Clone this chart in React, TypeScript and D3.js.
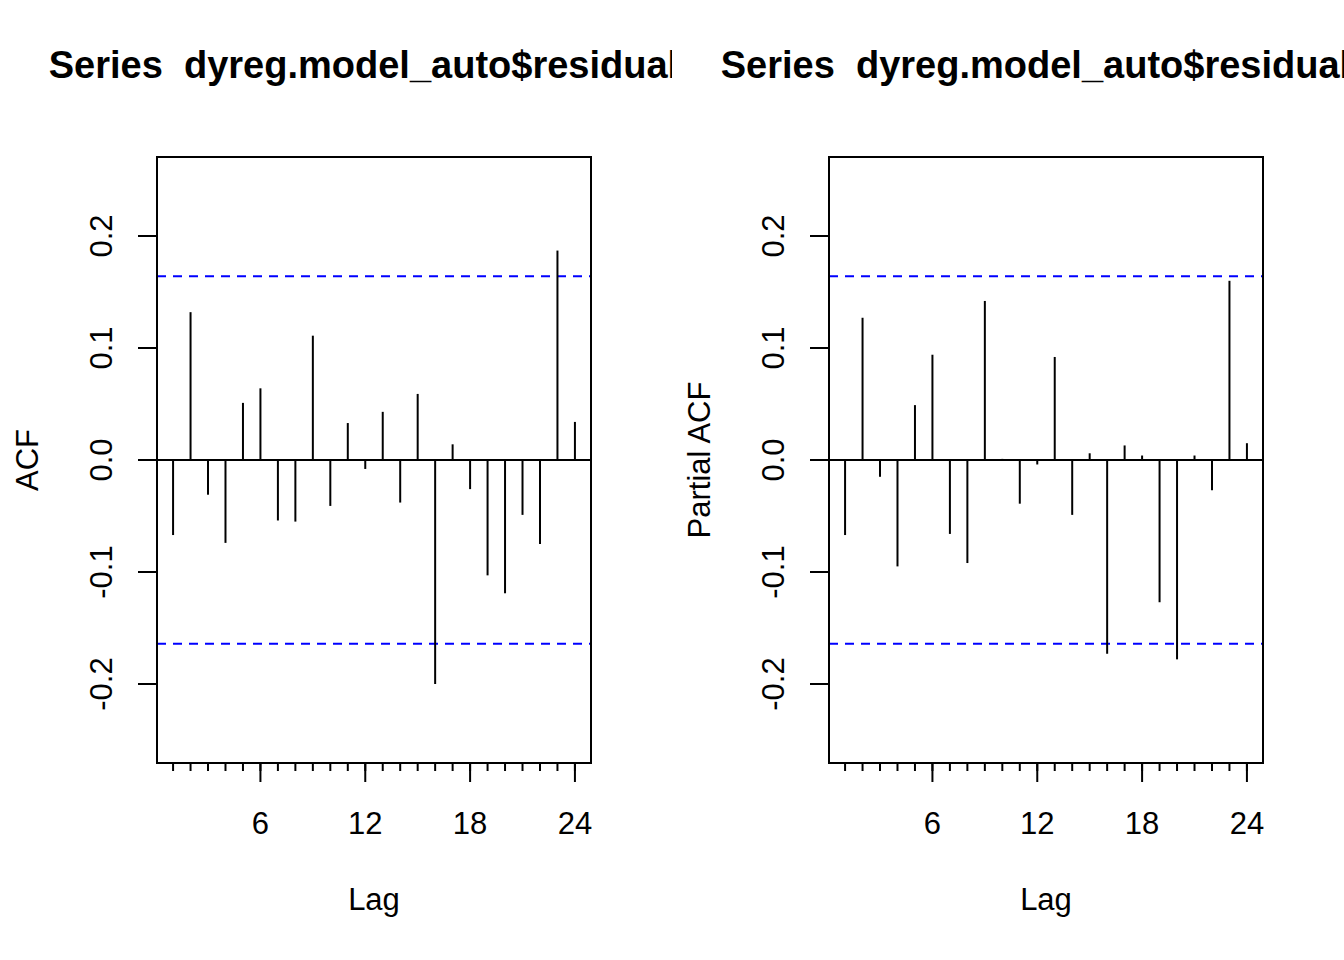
import React from "react";
import * as d3 from "d3";

const lags = Array.from({ length: 24 }, (_, i) => i + 1);
const acfValues = [-0.067, 0.132, -0.031, -0.074, 0.051, 0.064, -0.054, -0.055, 0.111, -0.041, 0.033, -0.008, 0.043, -0.038, 0.059, -0.2, 0.014, -0.026, -0.103, -0.119, -0.049, -0.075, 0.187, 0.034];
const pacfValues = [-0.067, 0.127, -0.015, -0.095, 0.049, 0.094, -0.066, -0.092, 0.142, 0.001, -0.039, -0.004, 0.092, -0.049, 0.006, -0.173, 0.013, 0.004, -0.127, -0.178, 0.004, -0.027, 0.16, 0.015];
const confLimit = 0.164;
const yLimits = [-0.2505, 0.2505];
const yTicks = [-0.2, -0.1, 0.0, 0.1, 0.2];
const xMajorTicks = [6, 12, 18, 24];
const titleText = "Series  dyreg.model_auto$residuals";

const W = 1344;
const H = 960;
const FONT = "'Liberation Sans', Arial, Helvetica, sans-serif";

type PanelProps = {
  values: number[];
  left: number;
  right: number;
  figLeft: number;
  figRight: number;
  ylab: string;
  id: string;
};

function Panel({ values, left, right, figLeft, figRight, ylab, id }: PanelProps) {
  const top = 157;
  const bottom = 763;
  const xr = [1, 24];
  const xpad = (xr[1] - xr[0]) * 0.04;
  const ypad = (yLimits[1] - yLimits[0]) * 0.04;
  const x = d3.scaleLinear().domain([xr[0] - xpad, xr[1] + xpad]).range([left, right]);
  const y = d3.scaleLinear().domain([yLimits[0] - ypad, yLimits[1] + ypad]).range([bottom, top]);
  const cx = (left + right) / 2;
  const lw = 2;
  return (
    <g>
      <defs>
        <clipPath id={`clip-${id}`}>
          <rect x={left} y={top} width={right - left} height={bottom - top} />
        </clipPath>
        <clipPath id={`fig-${id}`}>
          <rect x={figLeft} y={0} width={figRight - figLeft} height={H} />
        </clipPath>
      </defs>
      <text
        x={cx}
        y={78}
        textAnchor="middle"
        fontFamily={FONT}
        fontWeight="bold"
        fontSize={38}
        style={{ whiteSpace: "pre" }}
        xmlSpace="preserve"
        clipPath={`url(#fig-${id})`}
      >
        {titleText}
      </text>
      <g clipPath={`url(#clip-${id})`}>
        <line x1={left} x2={right} y1={y(0)} y2={y(0)} stroke="#000" strokeWidth={lw} />
        {[confLimit, -confLimit].map((c, i) => (
          <line key={i} x1={left} x2={right} y1={y(c)} y2={y(c)} stroke="#0000FF" strokeWidth={lw} strokeDasharray="9 7" />
        ))}
        {values.map((v, i) => (
          <line key={i} x1={x(lags[i])} x2={x(lags[i])} y1={y(0)} y2={y(v)} stroke="#000" strokeWidth={lw} />
        ))}
      </g>
      <rect x={left} y={top} width={right - left} height={bottom - top} fill="none" stroke="#000" strokeWidth={lw} />
      {lags.map((l) => (
        <line key={`m${l}`} x1={x(l)} x2={x(l)} y1={bottom} y2={bottom + 8} stroke="#000" strokeWidth={lw} />
      ))}
      {xMajorTicks.map((t) => (
        <g key={`M${t}`}>
          <line x1={x(t)} x2={x(t)} y1={bottom} y2={bottom + 19} stroke="#000" strokeWidth={lw} />
          <text x={x(t)} y={834} textAnchor="middle" fontFamily={FONT} fontSize={31}>
            {t}
          </text>
        </g>
      ))}
      {yTicks.map((t) => (
        <g key={`y${t}`}>
          <line x1={left - 19} x2={left} y1={y(t)} y2={y(t)} stroke="#000" strokeWidth={lw} />
          <text
            transform={`translate(${left - 45},${y(t)}) rotate(-90)`}
            textAnchor="middle"
            fontFamily={FONT}
            fontSize={31}
          >
            {t.toFixed(1)}
          </text>
        </g>
      ))}
      <text x={cx} y={910} textAnchor="middle" fontFamily={FONT} fontSize={31}>
        Lag
      </text>
      <text
        transform={`translate(${left - 119},${(top + bottom) / 2}) rotate(-90)`}
        textAnchor="middle"
        fontFamily={FONT}
        fontSize={31}
      >
        {ylab}
      </text>
    </g>
  );
}

export default function App() {
  return (
    <svg width={W} height={H} style={{ position: "absolute", left: 0, top: 0, background: "#fff" }}>
      <rect x={0} y={0} width={W} height={H} fill="#fff" />
      <Panel values={acfValues} left={157} right={591} figLeft={0} figRight={672} ylab="ACF" id="acf" />
      <Panel values={pacfValues} left={829} right={1263} figLeft={672} figRight={1344} ylab="Partial ACF" id="pacf" />
    </svg>
  );
}
